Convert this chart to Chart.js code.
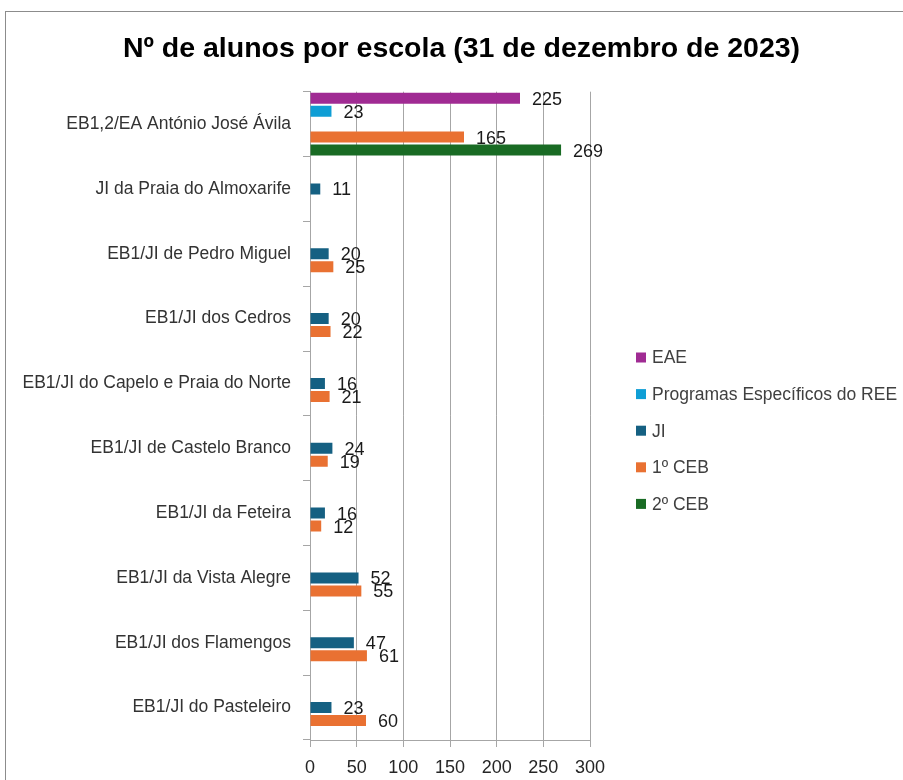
<!DOCTYPE html>
<html lang="pt">
<head>
<meta charset="utf-8">
<title>Nº de alunos por escola</title>
<script src="https://cdn.jsdelivr.net/npm/chart.js@4/dist/chart.umd.min.js"></script>
<style>
  html, body { margin: 0; padding: 0; background: #fff; }
  #wrap { position: relative; width: 903px; height: 780px; }
</style>
</head>
<body>
<div id="wrap"><canvas id="chart"></canvas></div>
<script>
/* Nº de alunos por escola (31/12/2023) - horizontal grouped bars */
const TITLE = 'Nº de alunos por escola (31 de dezembro de 2023)';

const schools = [
  'EB1,2/EA António José Ávila',
  'JI da Praia do Almoxarife',
  'EB1/JI de Pedro Miguel',
  'EB1/JI dos Cedros',
  'EB1/JI do Capelo e Praia do Norte',
  'EB1/JI de Castelo Branco',
  'EB1/JI da Feteira',
  'EB1/JI da Vista Alegre',
  'EB1/JI dos Flamengos',
  'EB1/JI do Pasteleiro',
];

const seriesNames = ['EAE', 'Programas Específicos do REE', 'JI', '1º CEB', '2º CEB'];
const seriesColors = ['#A02B93', '#0F9ED5', '#156082', '#E97132', '#196B24'];

const eae  = [225, null, null, null, null, null, null, null, null, null];
const ree  = [23,  null, null, null, null, null, null, null, null, null];
const ji   = [null, 11, 20, 20, 16, 24, 16, 52, 47, 23];
const ceb1 = [165, null, 25, 22, 21, 19, 12, 55, 61, 60];
const ceb2 = [269, null, null, null, null, null, null, null, null, null];

const xMin = 0, xMax = 300, xStep = 50;

const FONT = '"Liberation Sans", Arial, sans-serif';
const GRID = '#a6a6a6';
const NUM_SIZE = 18;
Chart.defaults.font.family = FONT;

// white background + outer chart border (Excel frame)
const frame = {
  id: 'frame',
  beforeDraw(chart) {
    const { ctx, width, height } = chart;
    ctx.save();
    ctx.fillStyle = '#fff';
    ctx.fillRect(0, 0, width, height);
    ctx.strokeStyle = '#8c8c8c';
    ctx.lineWidth = 1;
    ctx.strokeRect(5.5, 11.5, width + 20, height + 20);
    ctx.restore();
  }
};

// value labels at bar ends
const barLabels = {
  id: 'barLabels',
  afterDatasetsDraw(chart) {
    const ctx = chart.ctx;
    ctx.save();
    ctx.font = NUM_SIZE + 'px ' + FONT;
    ctx.fillStyle = '#1a1a1a';
    ctx.textAlign = 'left';
    ctx.textBaseline = 'middle';
    chart.data.datasets.forEach((ds, i) => {
      chart.getDatasetMeta(i).data.forEach((bar, j) => {
        const v = ds.data[j];
        if (v == null) return;
        ctx.fillText(String(v), bar.x + 12, bar.y + 1.5);
      });
    });
    ctx.restore();
  }
};

// legend on the right, vertical list
const sideLegend = {
  id: 'sideLegend',
  afterDraw(chart) {
    const ctx = chart.ctx;
    const x = chart.chartArea.right + 46;
    const y0 = 357.5, step = 36.6;
    ctx.save();
    ctx.font = '17.5px ' + FONT;
    ctx.textAlign = 'left';
    ctx.textBaseline = 'middle';
    chart.data.datasets.forEach((ds, i) => {
      const y = y0 + i * step;
      ctx.fillStyle = ds.backgroundColor;
      ctx.fillRect(x, y - 5, 10, 10);
      ctx.fillStyle = '#404040';
      ctx.fillText(ds.label, x + 16, y + 1);
    });
    ctx.restore();
  }
};

const seriesData = [eae, ree, ji, ceb1, ceb2];

new Chart(document.getElementById('chart'), {
  type: 'bar',
  data: {
    labels: schools,
    datasets: seriesNames.map((name, i) => ({
      label: name,
      data: seriesData[i],
      backgroundColor: seriesColors[i],
      categoryPercentage: 1.0,
      barPercentage: 0.85,
    })),
  },
  options: {
    indexAxis: 'y',
    responsive: true,
    maintainAspectRatio: false,
    animation: false,
    layout: { padding: { left: 20, right: 0, top: 0, bottom: 0 } },
    plugins: {
      legend: { display: false },
      tooltip: { enabled: false },
      title: {
        display: true,
        text: TITLE,
        color: '#000',
        font: { size: 28.5, weight: 'bold', family: FONT },
        padding: { top: 32, bottom: 25.5 },
      },
    },
    scales: {
      x: {
        min: xMin, max: xMax,
        ticks: { stepSize: xStep, color: '#262626', font: { size: NUM_SIZE }, padding: 10 },
        grid: { color: GRID, tickLength: 7 },
        border: { display: true, color: GRID },
        afterFit(s) { s.height = 40; },
      },
      y: {
        ticks: { color: '#333', font: { size: 17.5 }, padding: 12 },
        grid: { drawOnChartArea: false, color: GRID, tickLength: 7 },
        border: { display: true, color: GRID },
        afterFit(s) { s.width = 290; },
      },
      side: {
        type: 'linear',
        position: 'right',
        grid: { display: false },
        border: { display: false },
        ticks: { display: false },
        afterFit(s) { s.width = 313; },
      },
    },
  },
  plugins: [frame, barLabels, sideLegend],
});
</script>
</body>
</html>
